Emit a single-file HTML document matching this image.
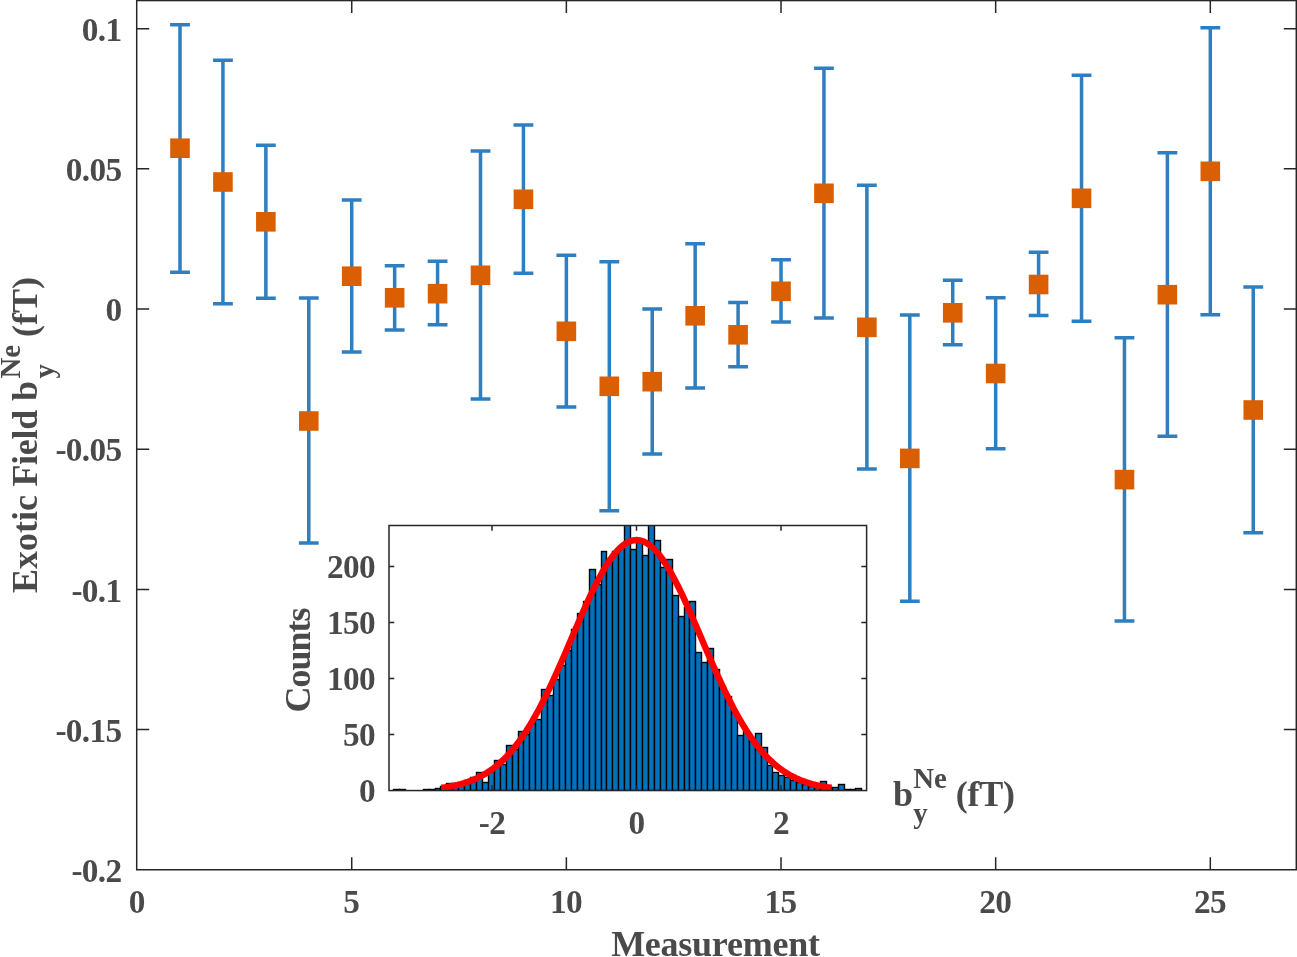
<!DOCTYPE html>
<html lang="en"><head><meta charset="utf-8"><title>Exotic Field measurement plot</title>
<style>html,body{margin:0;padding:0;background:#fff;overflow:hidden}svg{display:block;will-change:transform}</style></head>
<body>
<svg width="1297" height="957" viewBox="0 0 1297 957" font-family="'Liberation Serif','Times New Roman',serif" font-weight="bold">
<rect x="0" y="0" width="1297" height="957" fill="#fff"/>
<g stroke="#2f7ebf" stroke-width="3.5" fill="none">
<path d="M180.00 24.70V272.30M170.10 24.70H189.90M170.10 272.30H189.90M222.93 60.30V303.70M213.03 60.30H232.83M213.03 303.70H232.83M265.86 145.30V298.30M255.96 145.30H275.76M255.96 298.30H275.76M308.79 298.00V543.00M298.89 298.00H318.69M298.89 543.00H318.69M351.72 200.00V352.00M341.82 200.00H361.62M341.82 352.00H361.62M394.65 265.70V330.00M384.75 265.70H404.55M384.75 330.00H404.55M437.58 261.30V324.70M427.68 261.30H447.48M427.68 324.70H447.48M480.51 151.00V399.00M470.61 151.00H490.41M470.61 399.00H490.41M523.44 125.00V273.30M513.54 125.00H533.34M513.54 273.30H533.34M566.37 255.30V407.00M556.47 255.30H576.27M556.47 407.00H576.27M609.30 261.70V510.70M599.40 261.70H619.20M599.40 510.70H619.20M652.23 309.00V454.00M642.33 309.00H662.13M642.33 454.00H662.13M695.16 243.70V388.00M685.26 243.70H705.06M685.26 388.00H705.06M738.09 302.50V366.70M728.19 302.50H747.99M728.19 366.70H747.99M781.02 259.70V322.00M771.12 259.70H790.92M771.12 322.00H790.92M823.95 68.30V318.00M814.05 68.30H833.85M814.05 318.00H833.85M866.88 185.30V469.10M856.98 185.30H876.78M856.98 469.10H876.78M909.81 314.90V601.30M899.91 314.90H919.71M899.91 601.30H919.71M952.74 280.30V344.80M942.84 280.30H962.64M942.84 344.80H962.64M995.67 297.70V448.70M985.77 297.70H1005.57M985.77 448.70H1005.57M1038.60 252.30V315.60M1028.70 252.30H1048.50M1028.70 315.60H1048.50M1081.53 75.30V321.20M1071.63 75.30H1091.43M1071.63 321.20H1091.43M1124.46 337.80V621.10M1114.56 337.80H1134.36M1114.56 621.10H1134.36M1167.39 152.70V436.30M1157.49 152.70H1177.29M1157.49 436.30H1177.29M1210.32 27.70V314.70M1200.42 27.70H1220.22M1200.42 314.70H1220.22M1253.25 287.00V532.80M1243.35 287.00H1263.15M1243.35 532.80H1263.15"/>
</g>
<g fill="#d95f02">
<rect x="170.20" y="138.40" width="19.6" height="19.6"/>
<rect x="213.13" y="172.20" width="19.6" height="19.6"/>
<rect x="256.06" y="212.00" width="19.6" height="19.6"/>
<rect x="298.99" y="411.20" width="19.6" height="19.6"/>
<rect x="341.92" y="266.40" width="19.6" height="19.6"/>
<rect x="384.85" y="288.00" width="19.6" height="19.6"/>
<rect x="427.78" y="283.90" width="19.6" height="19.6"/>
<rect x="470.71" y="265.50" width="19.6" height="19.6"/>
<rect x="513.64" y="189.50" width="19.6" height="19.6"/>
<rect x="556.57" y="321.50" width="19.6" height="19.6"/>
<rect x="599.50" y="376.50" width="19.6" height="19.6"/>
<rect x="642.43" y="371.90" width="19.6" height="19.6"/>
<rect x="685.36" y="306.00" width="19.6" height="19.6"/>
<rect x="728.29" y="325.00" width="19.6" height="19.6"/>
<rect x="771.22" y="281.50" width="19.6" height="19.6"/>
<rect x="814.15" y="183.50" width="19.6" height="19.6"/>
<rect x="857.08" y="317.50" width="19.6" height="19.6"/>
<rect x="900.01" y="448.60" width="19.6" height="19.6"/>
<rect x="942.94" y="303.00" width="19.6" height="19.6"/>
<rect x="985.87" y="363.70" width="19.6" height="19.6"/>
<rect x="1028.80" y="274.70" width="19.6" height="19.6"/>
<rect x="1071.73" y="188.50" width="19.6" height="19.6"/>
<rect x="1114.66" y="469.80" width="19.6" height="19.6"/>
<rect x="1157.59" y="284.90" width="19.6" height="19.6"/>
<rect x="1200.52" y="161.50" width="19.6" height="19.6"/>
<rect x="1243.45" y="400.20" width="19.6" height="19.6"/>
</g>
<g stroke="#262626" stroke-width="1.5" fill="none">
<rect x="136.7" y="0.55" width="1159.6" height="869.2"/>
<path d="M351.72 869.75v-12.5M351.72 0.55v12.5M566.37 869.75v-12.5M566.37 0.55v12.5M781.02 869.75v-12.5M781.02 0.55v12.5M995.67 869.75v-12.5M995.67 0.55v12.5M1210.32 869.75v-12.5M1210.32 0.55v12.5M136.7 729.58h12.5M1296.3 729.58h-12.5M136.7 589.39h12.5M1296.3 589.39h-12.5M136.7 449.20h12.5M1296.3 449.20h-12.5M136.7 309.02h12.5M1296.3 309.02h-12.5M136.7 168.83h12.5M1296.3 168.83h-12.5M136.7 28.65h12.5M1296.3 28.65h-12.5"/>
</g>
<g fill="#4a4a4a" font-size="33.3" letter-spacing="-0.65">
<text x="136.67" y="913.3" text-anchor="middle">0</text>
<text x="351.32" y="913.3" text-anchor="middle">5</text>
<text x="565.97" y="913.3" text-anchor="middle">10</text>
<text x="780.62" y="913.3" text-anchor="middle">15</text>
<text x="995.27" y="913.3" text-anchor="middle">20</text>
<text x="1209.92" y="913.3" text-anchor="middle">25</text>
<text x="121.5" y="881.96" text-anchor="end">-0.2</text>
<text x="121.5" y="741.78" text-anchor="end">-0.15</text>
<text x="121.5" y="601.59" text-anchor="end">-0.1</text>
<text x="121.5" y="461.40" text-anchor="end">-0.05</text>
<text x="121.5" y="321.22" text-anchor="end">0</text>
<text x="121.5" y="181.03" text-anchor="end">0.05</text>
<text x="121.5" y="40.85" text-anchor="end">0.1</text>
</g>
<text x="715.4" y="956.3" text-anchor="middle" font-size="36.0" letter-spacing="-0.25" fill="#4a4a4a">Measurement</text>
<g transform="translate(37.2 592.9) rotate(-90)" fill="#4a4a4a" font-size="36.0"><text x="0" y="0">Exotic</text><text x="106.3" y="0" letter-spacing="-0.3">Field</text><text x="191.8" y="0">b</text><text x="214.4" y="-17.3" font-size="28.8">Ne</text><text x="214.4" y="17" font-size="28.8">y</text><text x="255.9" y="0">(fT)</text></g>
<rect x="389.0" y="525.5" width="477.6" height="265.04999999999995" fill="#fff"/>
<clipPath id="ic"><rect x="389.0" y="525.5" width="477.6" height="265.04999999999995"/></clipPath>
<g clip-path="url(#ic)"><g fill="#0072bd" stroke="#000" stroke-width="1.4">
<rect x="393.5" y="789.5" width="6.0" height="1.05"/>
<rect x="399.5" y="789.5" width="6.0" height="1.05"/>
<rect x="423.5" y="789.5" width="6.0" height="1.05"/>
<rect x="429.5" y="789.5" width="6.0" height="1.05"/>
<rect x="435.5" y="788.5" width="5.0" height="2.05"/>
<rect x="440.5" y="786.5" width="6.0" height="4.05"/>
<rect x="446.5" y="783.5" width="6.0" height="7.05"/>
<rect x="452.5" y="783.5" width="6.0" height="7.05"/>
<rect x="458.5" y="782.5" width="6.0" height="8.05"/>
<rect x="464.5" y="780.5" width="6.0" height="10.05"/>
<rect x="470.5" y="777.5" width="6.0" height="13.05"/>
<rect x="476.5" y="772.5" width="6.0" height="18.05"/>
<rect x="482.5" y="782.5" width="6.0" height="8.05"/>
<rect x="488.5" y="769.5" width="6.0" height="21.05"/>
<rect x="494.5" y="760.5" width="6.0" height="30.05"/>
<rect x="500.5" y="764.5" width="6.0" height="26.05"/>
<rect x="506.5" y="745.5" width="6.0" height="45.05"/>
<rect x="512.5" y="749.5" width="6.0" height="41.05"/>
<rect x="518.5" y="731.5" width="5.0" height="59.05"/>
<rect x="523.5" y="734.5" width="6.0" height="56.05"/>
<rect x="529.5" y="723.5" width="6.0" height="67.05"/>
<rect x="535.5" y="719.5" width="6.0" height="71.05"/>
<rect x="541.5" y="689.5" width="6.0" height="101.05"/>
<rect x="547.5" y="695.5" width="6.0" height="95.05"/>
<rect x="553.5" y="679.5" width="6.0" height="111.05"/>
<rect x="559.5" y="665.5" width="6.0" height="125.05"/>
<rect x="565.5" y="650.5" width="6.0" height="140.05"/>
<rect x="571.5" y="629.5" width="6.0" height="161.05"/>
<rect x="577.5" y="613.5" width="6.0" height="177.05"/>
<rect x="583.5" y="601.5" width="6.0" height="189.05"/>
<rect x="589.5" y="569.5" width="6.0" height="221.05"/>
<rect x="595.5" y="584.5" width="6.0" height="206.05"/>
<rect x="601.5" y="551.5" width="5.0" height="239.05"/>
<rect x="606.5" y="559.5" width="6.0" height="231.05"/>
<rect x="612.5" y="551.5" width="6.0" height="239.05"/>
<rect x="618.5" y="547.5" width="6.0" height="243.05"/>
<rect x="624.5" y="510.5" width="6.0" height="280.05"/>
<rect x="630.5" y="549.5" width="6.0" height="241.05"/>
<rect x="636.5" y="541.5" width="6.0" height="249.05"/>
<rect x="642.5" y="555.5" width="6.0" height="235.05"/>
<rect x="648.5" y="510.5" width="6.0" height="280.05"/>
<rect x="654.5" y="540.5" width="6.0" height="250.05"/>
<rect x="660.5" y="567.5" width="6.0" height="223.05"/>
<rect x="666.5" y="559.5" width="6.0" height="231.05"/>
<rect x="672.5" y="595.5" width="6.0" height="195.05"/>
<rect x="678.5" y="616.5" width="6.0" height="174.05"/>
<rect x="684.5" y="607.5" width="5.0" height="183.05"/>
<rect x="689.5" y="601.5" width="6.0" height="189.05"/>
<rect x="695.5" y="652.5" width="6.0" height="138.05"/>
<rect x="701.5" y="662.5" width="6.0" height="128.05"/>
<rect x="707.5" y="648.5" width="6.0" height="142.05"/>
<rect x="713.5" y="669.5" width="6.0" height="121.05"/>
<rect x="719.5" y="686.5" width="6.0" height="104.05"/>
<rect x="725.5" y="696.5" width="6.0" height="94.05"/>
<rect x="731.5" y="712.5" width="6.0" height="78.05"/>
<rect x="737.5" y="735.5" width="6.0" height="55.05"/>
<rect x="743.5" y="731.5" width="6.0" height="59.05"/>
<rect x="749.5" y="739.5" width="6.0" height="51.05"/>
<rect x="755.5" y="733.5" width="6.0" height="57.05"/>
<rect x="761.5" y="747.5" width="6.0" height="43.05"/>
<rect x="767.5" y="765.5" width="5.0" height="25.05"/>
<rect x="772.5" y="772.5" width="6.0" height="18.05"/>
<rect x="778.5" y="775.5" width="6.0" height="15.05"/>
<rect x="784.5" y="777.5" width="6.0" height="13.05"/>
<rect x="790.5" y="780.5" width="6.0" height="10.05"/>
<rect x="796.5" y="782.5" width="6.0" height="8.05"/>
<rect x="802.5" y="784.5" width="6.0" height="6.05"/>
<rect x="808.5" y="786.5" width="6.0" height="4.05"/>
<rect x="814.5" y="787.5" width="6.0" height="3.05"/>
<rect x="820.5" y="781.5" width="6.0" height="9.05"/>
<rect x="826.5" y="787.5" width="6.0" height="3.05"/>
<rect x="832.5" y="787.5" width="6.0" height="3.05"/>
<rect x="838.5" y="784.5" width="6.0" height="6.05"/>
<rect x="844.5" y="789.5" width="6.0" height="1.05"/>
<rect x="850.5" y="789.5" width="5.0" height="1.05"/>
<rect x="855.5" y="788.5" width="6.0" height="2.05"/>
</g>
<polyline points="441.42,787.77 444.68,787.32 447.93,786.81 451.18,786.23 454.43,785.58 457.68,784.84 460.93,784.01 464.18,783.07 467.43,782.02 470.69,780.85 473.94,779.54 477.19,778.09 480.44,776.49 483.69,774.71 486.94,772.76 490.19,770.62 493.44,768.27 496.70,765.71 499.95,762.93 503.20,759.91 506.45,756.64 509.70,753.12 512.95,749.34 516.20,745.29 519.46,740.97 522.71,736.37 525.96,731.49 529.21,726.33 532.46,720.89 535.71,715.18 538.96,709.21 542.21,702.98 545.47,696.52 548.72,689.83 551.97,682.93 555.22,675.84 558.47,668.60 561.72,661.22 564.97,653.73 568.22,646.18 571.48,638.59 574.73,631.00 577.98,623.44 581.23,615.97 584.48,608.62 587.73,601.43 590.98,594.45 594.23,587.72 597.49,581.28 600.74,575.17 603.99,569.45 607.24,564.13 610.49,559.27 613.74,554.89 616.99,551.03 620.24,547.71 623.50,544.97 626.75,542.81 630.00,541.26 633.25,540.32 636.50,540.01 639.75,540.32 643.00,541.26 646.25,542.81 649.50,544.97 652.76,547.71 656.01,551.03 659.26,554.89 662.51,559.27 665.76,564.13 669.01,569.45 672.26,575.17 675.51,581.28 678.77,587.72 682.02,594.45 685.27,601.43 688.52,608.62 691.77,615.97 695.02,623.44 698.27,631.00 701.52,638.59 704.78,646.18 708.03,653.73 711.28,661.22 714.53,668.60 717.78,675.84 721.03,682.93 724.28,689.83 727.53,696.52 730.79,702.98 734.04,709.21 737.29,715.18 740.54,720.89 743.79,726.33 747.04,731.49 750.29,736.37 753.55,740.97 756.80,745.29 760.05,749.34 763.30,753.12 766.55,756.64 769.80,759.91 773.05,762.93 776.30,765.71 779.56,768.27 782.81,770.62 786.06,772.76 789.31,774.71 792.56,776.49 795.81,778.09 799.06,779.54 802.31,780.85 805.57,782.02 808.82,783.07 812.07,784.01 815.32,784.84 818.57,785.58 821.82,786.23 825.07,786.81 828.32,787.32 831.58,787.77" fill="none" stroke="#ff0000" stroke-width="6.4" stroke-linejoin="round"/>
</g>
<g stroke="#262626" stroke-width="1.5" fill="none">
<rect x="389.0" y="525.5" width="477.6" height="265.04999999999995"/>
<path d="M492.00 790.55v-5.3M492.00 525.5v5.3M636.50 790.55v-5.3M636.50 525.5v5.3M781.00 790.55v-5.3M781.00 525.5v5.3M389.0 734.55h5.3M866.6 734.55h-5.3M389.0 678.55h5.3M866.6 678.55h-5.3M389.0 622.55h5.3M866.6 622.55h-5.3M389.0 566.55h5.3M866.6 566.55h-5.3"/>
</g>
<g fill="#4a4a4a" font-size="33.3" letter-spacing="-0.65">
<text x="492.00" y="834.3" text-anchor="middle">-2</text>
<text x="636.50" y="834.3" text-anchor="middle">0</text>
<text x="781.00" y="834.3" text-anchor="middle">2</text>
<text x="375.0" y="802.25" text-anchor="end">0</text>
<text x="375.0" y="746.25" text-anchor="end">50</text>
<text x="375.0" y="690.25" text-anchor="end">100</text>
<text x="375.0" y="634.25" text-anchor="end">150</text>
<text x="375.0" y="578.25" text-anchor="end">200</text>
</g>
<text transform="translate(310.2 712.4) rotate(-90)" font-size="36.0" letter-spacing="-1.04" fill="#4a4a4a" id="cnt">Counts</text>
<g fill="#4a4a4a" font-size="36.0"><text id="il1" x="893.1" y="805.9">b</text><text id="il2" x="913.2" y="788.3" font-size="28.8">Ne</text><text id="il3" x="913.2" y="822.9" font-size="28.8">y</text><text id="il4" x="955.8" y="805.9" letter-spacing="-0.3">(fT)</text></g>
</svg>
</body></html>
